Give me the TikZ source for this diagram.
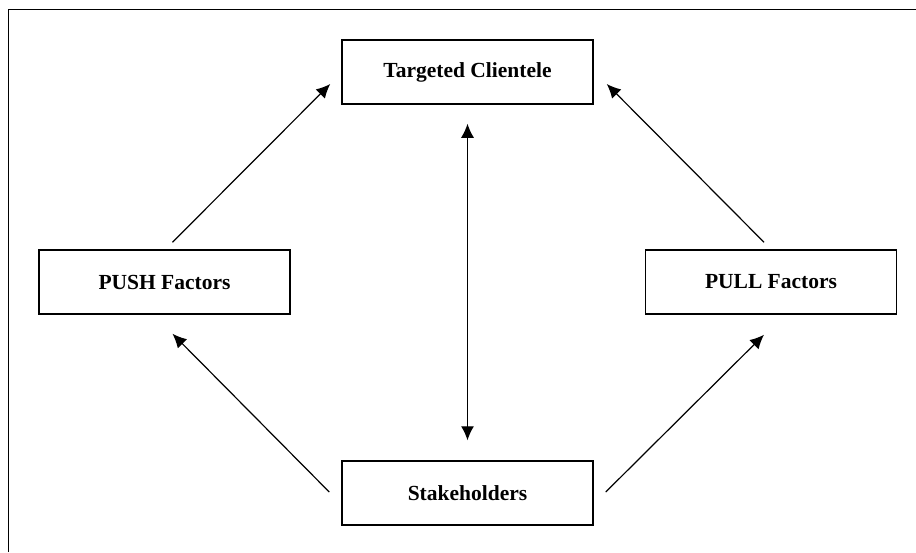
\documentclass[tikz,border=0pt]{standalone}
\usepackage{fontspec}
\setmainfont{Liberation Serif}
\usetikzlibrary{arrows.meta}

\tikzset{
	factorbox/.style={draw, rectangle, line width=1.5pt, minimum width=251pt,
		minimum height=64pt, inner sep=0pt, font=\fontsize{21.5}{25}\selectfont\bfseries},
	link/.style={line width=1.2pt, -{Latex[length=14pt, width=13pt]}},
	twoway/.style={line width=1.2pt, {Latex[length=14pt, width=13pt]}-{Latex[length=14pt, width=13pt]}},
}

\begin{document}
\begin{tikzpicture}[x=1pt, y=-1pt]
	\def \boxtop {72}
	\def \boxmid {282}
	\def \boxbot {493}

	\useasboundingbox (0,0) rectangle (916,552);
	\draw[line width=1.7pt] (8.5,552) -- (8.5,9.5) -- (916,9.5);

	\node[factorbox] (clientele)    at (467.5,\boxtop) {Targeted Clientele};
	\node[factorbox] (push)         at (164.5,\boxmid) {PUSH Factors};
	\node[factorbox] (pull)         at (771,\boxmid)   {PULL Factors};
	\node[factorbox] (stakeholders) at (467.5,\boxbot) {Stakeholders};

	\draw[link] ([shift={(8,-7)}]push.north)  -- ([shift={(-11,12)}]clientele.west);
	\draw[link] ([shift={(-7,-7)}]pull.north) -- ([shift={(13,12)}]clientele.east);
	\draw[link] ([shift={(-12,-1)}]stakeholders.west) -- ([shift={(8,19)}]push.south);
	\draw[link] ([shift={(12,-1)}]stakeholders.east)  -- ([shift={(-7,20)}]pull.south);
	\draw[twoway] ([shift={(0,19)}]clientele.south) -- ([shift={(0,-20)}]stakeholders.north);
\end{tikzpicture}
\end{document}
